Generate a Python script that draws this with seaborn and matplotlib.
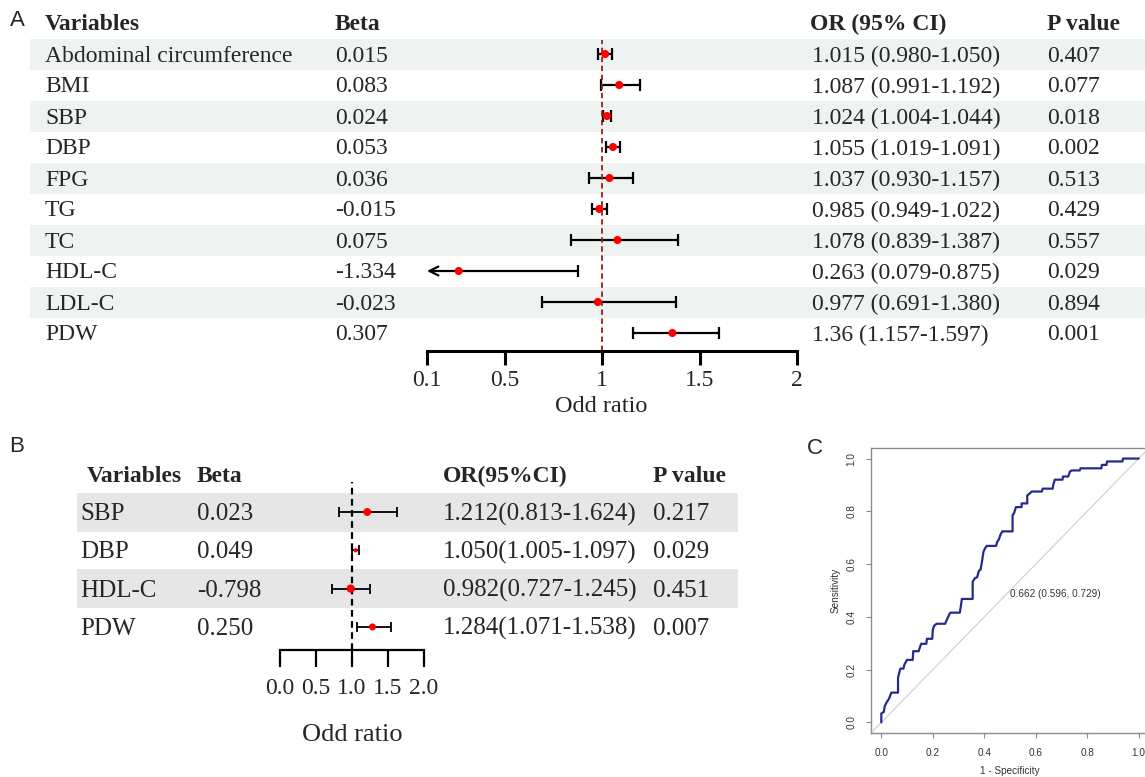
import numpy as np
import matplotlib.pyplot as plt
import seaborn as sns

# ---- Panel A: univariate logistic regression ----
a_vars = ["Abdominal circumference", "BMI", "SBP", "DBP", "FPG", "TG", "TC", "HDL-C", "LDL-C", "PDW"]
a_beta = ["0.015", "0.083", "0.024", "0.053", "0.036", "-0.015", "0.075", "-1.334", "-0.023", "0.307"]
a_or = [1.015, 1.087, 1.024, 1.055, 1.037, 0.985, 1.078, 0.263, 0.977, 1.36]
a_lo = [0.980, 0.991, 1.004, 1.019, 0.930, 0.949, 0.839, 0.079, 0.691, 1.157]
a_hi = [1.050, 1.192, 1.044, 1.091, 1.157, 1.022, 1.387, 0.875, 1.380, 1.597]
a_or_text = ["1.015 (0.980-1.050)", "1.087 (0.991-1.192)", "1.024 (1.004-1.044)",
             "1.055 (1.019-1.091)", "1.037 (0.930-1.157)", "0.985 (0.949-1.022)",
             "1.078 (0.839-1.387)", "0.263 (0.079-0.875)", "0.977 (0.691-1.380)",
             "1.36 (1.157-1.597)"]
a_p = ["0.407", "0.077", "0.018", "0.002", "0.513", "0.429", "0.557", "0.029", "0.894", "0.001"]
a_ticks = [0.1, 0.5, 1, 1.5, 2]
a_ticklabels = ["0.1", "0.5", "1", "1.5", "2"]

# ---- Panel B: multivariate logistic regression ----
b_vars = ["SBP", "DBP", "HDL-C", "PDW"]
b_beta = ["0.023", "0.049", "-0.798", "0.250"]
b_or = [1.212, 1.050, 0.982, 1.284]
b_lo = [0.813, 1.005, 0.727, 1.071]
b_hi = [1.624, 1.097, 1.245, 1.538]
b_or_text = ["1.212(0.813-1.624)", "1.050(1.005-1.097)", "0.982(0.727-1.245)", "1.284(1.071-1.538)"]
b_p = ["0.217", "0.029", "0.451", "0.007"]
b_ticks = [0.0, 0.5, 1.0, 1.5, 2.0]
b_ticklabels = ["0.0", "0.5", "1.0", "1.5", "2.0"]
b_marker_px = [8.0, 4.2, 8.3, 7.0]   # point size drawn per row

# ---- Panel C: ROC curve ----
roc_fpr = [0, 0, 0.010, 0.013, 0.020, 0.030, 0.039, 0.065, 0.065, 0.074, 0.086, 0.090,
           0.100, 0.122, 0.124, 0.145, 0.152, 0.155, 0.175, 0.177, 0.198, 0.200, 0.205,
           0.215, 0.248, 0.255, 0.262, 0.268, 0.305, 0.308, 0.313, 0.355, 0.355, 0.364,
           0.372, 0.379, 0.386, 0.391, 0.397, 0.403, 0.410, 0.446, 0.450, 0.457, 0.462,
           0.470, 0.510, 0.510, 0.516, 0.523, 0.545, 0.545, 0.567, 0.567, 0.578, 0.584,
           0.624, 0.627, 0.666, 0.668, 0.674, 0.704, 0.706, 0.726, 0.733, 0.740, 0.771,
           0.774, 0.855, 0.857, 0.875, 0.877, 0.937, 0.939, 1.0]
roc_tpr = [0, 0.034, 0.040, 0.060, 0.075, 0.090, 0.113, 0.113, 0.170, 0.204, 0.204, 0.220,
           0.237, 0.237, 0.270, 0.270, 0.290, 0.298, 0.298, 0.317, 0.317, 0.351, 0.366,
           0.374, 0.374, 0.390, 0.405, 0.416, 0.416, 0.434, 0.468, 0.468, 0.533, 0.547,
           0.550, 0.574, 0.580, 0.609, 0.647, 0.660, 0.669, 0.669, 0.684, 0.694, 0.709,
           0.724, 0.724, 0.785, 0.794, 0.816, 0.816, 0.830, 0.830, 0.860, 0.869, 0.875,
           0.875, 0.886, 0.886, 0.900, 0.920, 0.920, 0.932, 0.932, 0.951, 0.955, 0.955,
           0.963, 0.963, 0.976, 0.976, 0.989, 0.989, 1.0, 1.0]
auc_text = "0.662 (0.596, 0.729)"

sns.set_style("white")
plt.rcParams['font.family'] = ['Liberation Serif', 'DejaVu Serif']
SANS = ['Liberation Sans', 'DejaVu Sans']

W, H = 1145, 777
fig = plt.figure(figsize=(W / 100, H / 100), dpi=100)


def box(x0, y0, x1, y1):
    # pixel box (top-left origin) -> figure fraction rect
    return [x0 / W, 1 - y1 / H, (x1 - x0) / W, (y1 - y0) / H]


# background layer in pixel coordinates for table text and row bands
bg = fig.add_axes([0, 0, 1, 1])
bg.set_xlim(0, W)
bg.set_ylim(H, 0)
bg.axis('off')
dy = 2  # text centre sits a bit below the bbox centre

# ---------------- Panel A ----------------
a_row0, a_step = 54, 31
fsA = 17
for i in range(len(a_vars)):
    y = a_row0 + i * a_step
    if i % 2 == 0:
        bg.fill_between([30, W], y - a_step / 2, y + a_step / 2, color='#eef2f0', lw=0)
    bg.text(45, y + dy, a_vars[i], fontsize=fsA, va='center')
    bg.text(335, y + dy, a_beta[i], fontsize=fsA, va='center')
    bg.text(812, y + dy, a_or_text[i], fontsize=fsA, va='center')
    bg.text(1047, y + dy, a_p[i], fontsize=fsA, va='center')
for x, t in zip([45, 335, 810, 1047], ["Variables", "Beta", "OR (95% CI)", "P value"]):
    bg.text(x, 22 + dy, t, fontsize=fsA, fontweight='bold', va='center')

axA = fig.add_axes(box(427, 40, 797, 351))
axA.patch.set_alpha(0)
ypos = np.arange(len(a_vars))
xmin_a = a_ticks[0]
for i in ypos:
    if a_lo[i] >= xmin_a:
        axA.errorbar(a_or[i], i, xerr=[[a_or[i] - a_lo[i]], [a_hi[i] - a_or[i]]], fmt='none',
                     ecolor='black', elinewidth=1.6, capsize=4.3, capthick=1.6)
    else:
        axA.annotate('', xy=(xmin_a, i), xytext=(a_hi[i], i),
                     arrowprops=dict(arrowstyle='->', lw=1.6, color='black',
                                     shrinkA=0, shrinkB=0, mutation_scale=16))
        axA.plot([a_hi[i]], [i], marker='|', ms=8.6, mew=1.6, color='black')
sns.scatterplot(x=a_or, y=ypos, ax=axA, color='#ff0000', s=34, edgecolor='none',
                zorder=5, legend=False)
axA.axvline(1, color='#9b1c1c', ls=(0, (3, 2)), lw=1.3)
axA.set_xlim(a_ticks[0], a_ticks[-1])
axA.set_ylim((351 - a_row0) / a_step, (40 - a_row0) / a_step)
for s in ['left', 'top', 'right']:
    axA.spines[s].set_visible(False)
axA.spines['bottom'].set_linewidth(2.2)
axA.spines['bottom'].set_color('black')
axA.set_yticks([])
axA.set_xticks(a_ticks)
axA.set_xticklabels(a_ticklabels)
axA.tick_params(axis='x', direction='out', length=10, width=2.2, labelsize=fsA, pad=4,
                bottom=True, color='black')
axA.set_xlabel("Odd ratio", fontsize=17.5)
axA.xaxis.set_label_coords((601 - 427) / 370, (351 - 407) / 311)
axA.xaxis.label.set_va('center')

# ---------------- Panel B ----------------
b_row0, b_step = 512, 38.3
fsB = 18
for i in range(len(b_vars)):
    y = b_row0 + i * b_step
    if i % 2 == 0:
        bg.fill_between([77, 738], y - 19.5, y + 19.5, color='#e6e6e6', lw=0)
    bg.text(80, y + dy, b_vars[i], fontsize=fsB, va='center')
    bg.text(197, y + dy, b_beta[i], fontsize=fsB, va='center')
    bg.text(443, y + dy, b_or_text[i], fontsize=fsB, va='center')
    bg.text(653, y + dy, b_p[i], fontsize=fsB, va='center')
for x, t in zip([87, 197, 443, 653], ["Variables", "Beta", "OR(95%CI)", "P value"]):
    bg.text(x, 474 + dy, t, fontsize=17, fontweight='bold', va='center')

axB = fig.add_axes(box(280, 482, 424, 650))
axB.patch.set_alpha(0)
yb = np.arange(len(b_vars))
axB.errorbar(b_or, yb, xerr=[np.subtract(b_or, b_lo), np.subtract(b_hi, b_or)], fmt='none',
             ecolor='black', elinewidth=1.3, capsize=3.4, capthick=1.3)
sns.scatterplot(x=b_or, y=yb, ax=axB, color='#ff0000', s=(np.array(b_marker_px) * 0.72) ** 2,
                edgecolor='none', zorder=5, legend=False)
axB.axvline(1, color='black', ls=(0, (3, 2)), lw=1.6)
axB.set_xlim(b_ticks[0], b_ticks[-1])
axB.set_ylim((650 - b_row0) / b_step, (482 - b_row0) / b_step)
for s in ['left', 'top', 'right']:
    axB.spines[s].set_visible(False)
axB.spines['bottom'].set_linewidth(1.6)
axB.spines['bottom'].set_color('black')
axB.set_yticks([])
axB.set_xticks(b_ticks)
axB.set_xticklabels(b_ticklabels)
axB.tick_params(axis='x', direction='out', length=12, width=1.6, labelsize=17, pad=8,
                bottom=True, color='black')
axB.set_xlabel("Odd ratio", fontsize=19)
axB.xaxis.set_label_coords(0.5, (650 - 735) / 168)
axB.xaxis.label.set_va('center')

# ---------------- Panel C ----------------
axC = fig.add_axes(box(871, 448, 1149, 733))
axC.axline((0, 0), (1, 1), color='#d3d3d3', lw=0.9)
sns.lineplot(x=roc_fpr, y=roc_tpr, sort=False, estimator=None, color='#27298c', lw=1.6, ax=axC)
axC.set_xlim(-0.04, 1.04)
axC.set_ylim(-0.04, 1.04)
ticks_c = [0, 0.2, 0.4, 0.6, 0.8, 1.0]
axC.set_xticks(ticks_c)
axC.set_xticklabels([f"{t:.1f}" for t in ticks_c], fontfamily=SANS)
axC.set_yticks(ticks_c)
axC.set_yticklabels([f"{t:.1f}" for t in ticks_c], fontfamily=SANS, rotation=90, va='center')
for s in axC.spines.values():
    s.set_color('#8a8a8a')
    s.set_linewidth(1.0)
axC.tick_params(direction='out', length=3.5, width=0.8, color='#8a8a8a', labelsize=7.2,
                labelcolor='#333333', pad=7, bottom=True, left=True)
axC.set_xlabel("1 - Specificity", fontsize=7.2, family=SANS, color='#333333', labelpad=6)
axC.set_ylabel("Sensitivity", fontsize=7.2, family=SANS, color='#333333', labelpad=4)
axC.text(0.5, 0.505, auc_text, fontsize=7.2, family=SANS, color='#333333', ha='left', va='top')

# panel letters
for x, y, t in [(17, 20, "A"), (17, 447, "B"), (815, 448, "C")]:
    bg.text(x, y, t, fontsize=16, family=SANS, ha='center', va='center')

fig.savefig("out.png", dpi=100)
